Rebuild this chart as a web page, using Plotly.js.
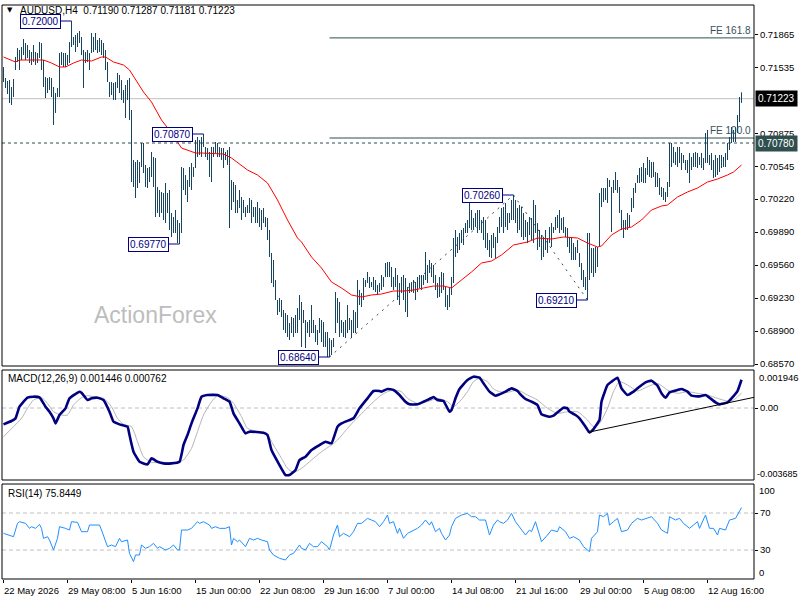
<!DOCTYPE html>
<html><head><meta charset="utf-8">
<script src="https://cdn.plot.ly/plotly-3.0.1.min.js"></script>
<style>html,body{margin:0;padding:0;background:#fff}#c{width:800px;height:600px}</style>
</head><body><div id="c"></div>
<script>
// ---------- DATA ----------
const symbol = 'AUDUSD,H4';
const lastOHLC = ['0.71190','0.71287','0.71181','0.71223'];
const tickIdx = [0,32,64,96,128,160,192,224,256,288,320,352];
const tickText = ['22 May 2026','29 May 08:00','5 Jun 16:00','15 Jun 00:00','22 Jun 08:00','29 Jun 16:00','7 Jul 00:00','14 Jul 08:00','21 Jul 16:00','29 Jul 00:00','5 Aug 08:00','12 Aug 16:00'];
const priceTicks = [0.71865,0.71535,0.70875,0.70545,0.70220,0.69890,0.69560,0.69230,0.68900,0.68570];

const high = [
0.7154,0.7143,0.7140,0.7141,0.7134,0.7142,0.7164,0.7173,0.7171,0.7174,
0.7182,0.7178,0.7176,0.7171,0.7169,0.7176,0.7169,0.7168,0.7179,0.7178,
0.7161,0.7144,0.7143,0.7144,0.7143,0.7134,0.7128,0.7133,0.7168,0.7169,
0.7168,0.7168,0.7166,0.7179,0.7200,0.7184,0.7186,0.7188,0.7190,0.7184,
0.7171,0.7169,0.7171,0.7168,0.7188,0.7184,0.7188,0.7181,0.7183,0.7181,
0.7178,0.7171,0.7159,0.7139,0.7139,0.7138,0.7139,0.7148,0.7146,0.7141,
0.7131,0.7136,0.7141,0.7143,0.7111,0.7061,0.7059,0.7061,0.7059,0.7078,
0.7078,0.7056,0.7053,0.7054,0.7069,0.7064,0.7063,0.7034,0.7031,0.7029,
0.7028,0.7038,0.7028,0.7031,0.7008,0.7004,0.7011,0.7001,0.6998,0.7054,
0.7053,0.7046,0.7041,0.7054,0.7058,0.7054,0.7081,0.7084,0.7081,0.7084,
0.7087,0.7074,0.7073,0.7069,0.7074,0.7074,0.7079,0.7078,0.7074,0.7073,
0.7073,0.7069,0.7071,0.7074,0.7041,0.7039,0.7036,0.7021,0.7031,0.7024,
0.7021,0.7014,0.7016,0.7023,0.7021,0.7014,0.7014,0.7019,0.7013,0.7011,
0.7013,0.7004,0.7003,0.6991,0.6968,0.6961,0.6941,0.6921,0.6923,0.6921,
0.6911,0.6908,0.6906,0.6898,0.6904,0.6903,0.6906,0.6913,0.6926,0.6919,
0.6911,0.6901,0.6899,0.6901,0.6916,0.6901,0.6896,0.6891,0.6903,0.6901,
0.6899,0.6889,0.6889,0.6883,0.6881,0.6883,0.6929,0.6923,0.6919,0.6901,
0.6899,0.6901,0.6916,0.6903,0.6901,0.6911,0.6909,0.6941,0.6931,0.6928,
0.6943,0.6941,0.6949,0.6944,0.6939,0.6944,0.6941,0.6936,0.6938,0.6946,
0.6944,0.6958,0.6959,0.6959,0.6954,0.6944,0.6953,0.6946,0.6938,0.6944,
0.6946,0.6943,0.6934,0.6938,0.6939,0.6941,0.6939,0.6944,0.6946,0.6946,
0.6946,0.6969,0.6956,0.6961,0.6958,0.6956,0.6946,0.6938,0.6944,0.6949,
0.6948,0.6934,0.6926,0.6934,0.6944,0.6983,0.6991,0.6984,0.6988,0.6991,
0.6993,0.6998,0.7001,0.7021,0.7011,0.7003,0.7008,0.7011,0.7011,0.7001,
0.7004,0.7001,0.6988,0.6981,0.6986,0.6988,0.6984,0.6994,0.7004,0.7013,
0.7014,0.7018,0.7008,0.7008,0.7021,0.7026,0.7021,0.7013,0.7016,0.7014,
0.7008,0.7001,0.6999,0.7004,0.7003,0.7021,0.7016,0.6998,0.6991,0.6986,
0.6984,0.6991,0.6983,0.6994,0.6998,0.6994,0.7004,0.7006,0.7011,0.7003,
0.7004,0.6994,0.6993,0.6984,0.6984,0.6978,0.6974,0.6981,0.6968,0.6958,
0.6951,0.6944,0.6988,0.6988,0.6973,0.6973,0.6974,0.6974,0.7028,0.7033,
0.7033,0.7033,0.7043,0.7041,0.7034,0.7041,0.7049,0.7041,0.7034,0.7011,
0.7001,0.7001,0.7008,0.7006,0.7023,0.7033,0.7038,0.7046,0.7053,0.7054,
0.7058,0.7053,0.7064,0.7061,0.7059,0.7059,0.7049,0.7048,0.7043,0.7034,
0.7033,0.7029,0.7039,0.7078,0.7078,0.7074,0.7069,0.7074,0.7074,0.7068,
0.7066,0.7061,0.7061,0.7068,0.7064,0.7068,0.7069,0.7068,0.7064,0.7068,
0.7063,0.7088,0.7091,0.7066,0.7068,0.7061,0.7066,0.7063,0.7066,0.7066,
0.7064,0.7068,0.7078,0.7084,0.7094,0.7091,0.7094,0.7106,0.7124,0.71287];

const low = [
0.7139,0.7133,0.7127,0.7118,0.7116,0.7124,0.7151,0.7159,0.7151,0.7161,
0.7166,0.7161,0.7163,0.7158,0.7156,0.7159,0.7156,0.7158,0.7163,0.7151,
0.7134,0.7123,0.7128,0.7131,0.7124,0.7096,0.7108,0.7124,0.7124,0.7156,
0.7154,0.7154,0.7156,0.7158,0.7174,0.7176,0.7169,0.7174,0.7178,0.7166,
0.7133,0.7158,0.7159,0.7151,0.7168,0.7169,0.7171,0.7168,0.7169,0.7166,
0.7163,0.7151,0.7139,0.7124,0.7126,0.7121,0.7121,0.7133,0.7128,0.7121,
0.7118,0.7103,0.7121,0.7101,0.7039,0.7034,0.7023,0.7033,0.7038,0.7054,
0.7048,0.7034,0.7033,0.7039,0.7044,0.7034,0.7004,0.7008,0.7004,0.7008,
0.7001,0.6998,0.7008,0.6991,0.6984,0.6988,0.6988,0.6978,0.6977,0.6988,
0.7031,0.7026,0.7019,0.7034,0.7031,0.7044,0.7053,0.7064,0.7066,0.7064,
0.7074,0.7064,0.7061,0.7044,0.7039,0.7064,0.7068,0.7064,0.7064,0.7061,
0.7053,0.7061,0.7056,0.6993,0.7011,0.7019,0.7008,0.7008,0.7013,0.7001,
0.7008,0.7004,0.7008,0.7008,0.6998,0.7004,0.6998,0.6998,0.6994,0.6991,
0.6998,0.6994,0.6981,0.6964,0.6938,0.6934,0.6921,0.6906,0.6909,0.6904,
0.6891,0.6888,0.6884,0.6881,0.6888,0.6884,0.6888,0.6888,0.6901,0.6874,
0.6898,0.6873,0.6888,0.6884,0.6888,0.6888,0.6879,0.6876,0.6888,0.6879,
0.6874,0.6874,0.6864,0.6864,0.6866,0.6874,0.6888,0.6898,0.6884,0.6888,
0.6884,0.6883,0.6888,0.6891,0.6883,0.6888,0.6888,0.6893,0.6916,0.6914,
0.6921,0.6934,0.6938,0.6933,0.6934,0.6931,0.6929,0.6926,0.6929,0.6931,
0.6934,0.6944,0.6944,0.6944,0.6934,0.6931,0.6934,0.6921,0.6916,0.6928,
0.6921,0.6909,0.6904,0.6928,0.6929,0.6928,0.6921,0.6929,0.6933,0.6931,
0.6936,0.6941,0.6938,0.6948,0.6944,0.6938,0.6931,0.6923,0.6924,0.6928,
0.6931,0.6914,0.6911,0.6914,0.6926,0.6938,0.6964,0.6968,0.6971,0.6978,
0.6976,0.6988,0.6988,0.6993,0.6991,0.6991,0.6994,0.6988,0.6991,0.6988,
0.6981,0.6973,0.6971,0.6964,0.6963,0.6973,0.6963,0.6978,0.6988,0.6994,
0.6988,0.6994,0.6991,0.6998,0.7001,0.7001,0.6998,0.6988,0.6991,0.6984,
0.6981,0.6984,0.6978,0.6986,0.6981,0.6978,0.6988,0.6971,0.6974,0.6961,
0.6964,0.6971,0.6968,0.6978,0.6974,0.6988,0.6991,0.6993,0.6988,0.6991,
0.6988,0.6984,0.6974,0.6968,0.6961,0.6961,0.6961,0.6968,0.6954,0.6941,
0.6934,0.6931,0.6921,0.6941,0.6948,0.6944,0.6948,0.6954,0.6974,0.7014,
0.7019,0.7021,0.7018,0.7034,0.6989,0.7028,0.7031,0.7028,0.7008,0.6991,
0.6983,0.6991,0.6991,0.6994,0.7009,0.7013,0.7028,0.7038,0.7038,0.7039,
0.7038,0.7038,0.7046,0.7044,0.7043,0.7044,0.7034,0.7034,0.7026,0.7024,
0.7021,0.7019,0.7024,0.7034,0.7054,0.7058,0.7056,0.7054,0.7058,0.7051,
0.7058,0.7051,0.7048,0.7038,0.7051,0.7054,0.7054,0.7053,0.7056,0.7053,
0.7051,0.7058,0.7058,0.7056,0.7051,0.7043,0.7044,0.7046,0.7049,0.7053,
0.7054,0.7054,0.7061,0.7071,0.7078,0.7079,0.7079,0.7088,0.7099,0.71181];

const maIdx = [0,6,8,13,20,24,28,31,35,39,44,49,51,55,60,63,67,70,74,79,84,89,96,99,110,114,122,127,132,137,142,147,149,154,159,164,169,174,179,184,189,195,200,205,210,215,220,224,229,234,239,244,249,255,262,267,274,280,287,292,297,299,304,309,314,319,324,329,332,337,342,347,352,357,362,365,369];
const maVal = [0.7164,0.7159,0.7161,0.7161,0.7161,0.7158,0.7154,0.7154,0.7158,0.7161,0.7160,0.7164,0.7164,0.7159,0.7156,0.7151,0.7139,0.7129,0.7119,0.7101,0.7088,0.7073,0.7068,0.7068,0.7067,0.7063,0.7051,0.7046,0.7038,0.7021,0.7001,0.6983,0.6979,0.6964,0.6953,0.6939,0.6933,0.6926,0.6924,0.6926,0.6927,0.6930,0.6930,0.6931,0.6933,0.6935,0.6935,0.6933,0.6941,0.6949,0.6958,0.6960,0.6966,0.6976,0.6979,0.6983,0.6982,0.6984,0.6983,0.6978,0.6974,0.6975,0.6986,0.6992,0.6994,0.7001,0.7011,0.7015,0.7016,0.7024,0.7029,0.7033,0.7039,0.7042,0.7046,0.7049,0.7056];

const swingIdx = [34,100,88,163,255,292];
const swingVal = [0.72000,0.70870,0.69770,0.68640,0.70260,0.69210];
const feLevels = [0.71831,0.70830];
const feText = ['FE 161.8','FE 100.0'];
const currentPrice = 0.71223;
const dashedLevel = 0.70780;

const macdIdx = [0,4,6,8,12,15,18,21,23,25,26,28,31,33,38,39,42,44,47,50,53,55,58,62,63,65,68,72,74,77,80,84,88,90,92,94,97,99,102,107,110,113,115,118,121,123,130,132,134,138,141,143,146,148,151,154,158,161,164,167,169,173,175,178,182,185,188,189,192,195,198,201,203,207,210,213,215,217,220,223,224,226,228,232,235,238,240,243,246,248,251,254,257,258,261,264,267,269,273,275,278,280,282,283,286,288,291,293,295,298,299,302,304,307,309,312,315,318,321,324,327,329,331,333,337,339,342,344,348,351,353,356,358,362,364,367,369];
const macdVal = [-0.000836,-0.000666,-0.000529,0.000068,0.000529,0.000580,0.000546,0.000068,-0.000188,-0.000529,-0.000785,-0.000358,-0.000017,0.000495,0.000836,0.000785,0.000410,0.000495,0.000529,0.000410,-0.000188,-0.000700,-0.000836,-0.000956,-0.001382,-0.002236,-0.002748,-0.002884,-0.002577,-0.002748,-0.002833,-0.002833,-0.002748,-0.001894,-0.001382,-0.000785,-0.000017,0.000580,0.000666,0.000666,0.000495,0.000324,-0.000273,-0.000785,-0.001297,-0.001212,-0.001263,-0.001382,-0.002150,-0.002918,-0.003430,-0.003430,-0.003174,-0.002662,-0.002492,-0.002150,-0.001894,-0.001724,-0.001809,-0.000956,-0.000785,-0.000614,-0.000529,-0.000017,0.000495,0.000870,0.000870,0.000836,0.000973,0.000922,0.000666,0.000324,0.000188,0.000188,0.000324,0.000461,0.000563,0.000410,0.000358,-0.000188,-0.000102,0.000495,0.000973,0.001434,0.001604,0.001553,0.001263,0.000836,0.000631,0.000700,0.000836,0.001007,0.000870,0.000751,0.000461,0.000324,0.000154,-0.000324,-0.000444,-0.000392,-0.000137,0.000017,-0.000017,-0.000188,-0.000358,-0.000529,-0.000956,-0.001246,-0.001075,-0.000614,0.000324,0.001178,0.001348,0.001553,0.001007,0.000666,0.000836,0.001092,0.001314,0.001400,0.001143,0.000751,0.000529,0.000802,0.000922,0.000973,0.000836,0.000631,0.000597,0.000666,0.000529,0.000290,0.000188,0.000290,0.000495,0.000870,0.001446];

const sigIdx = [0,5,9,12,15,19,22,25,29,32,35,39,42,47,50,54,57,60,64,67,70,74,79,87,90,94,97,100,104,107,112,115,119,122,127,132,135,139,142,145,149,154,159,164,167,172,175,180,185,189,192,195,199,202,207,212,217,222,225,228,232,235,238,242,245,248,252,257,262,267,272,277,282,287,292,295,298,302,305,308,312,317,322,327,332,337,342,347,352,357,362,365,369];
const sigVal = [-0.001468,-0.000956,-0.000529,-0.000017,0.000410,0.000529,0.000239,-0.000188,-0.000358,-0.000358,0.000154,0.000529,0.000631,0.000529,0.000495,0.000068,-0.000529,-0.000836,-0.000956,-0.001724,-0.002492,-0.002782,-0.002782,-0.002782,-0.002662,-0.002065,-0.001212,-0.000358,0.000324,0.000631,0.000529,0.000239,-0.000444,-0.001041,-0.001212,-0.001382,-0.001894,-0.002577,-0.003089,-0.003294,-0.003089,-0.002662,-0.002236,-0.001894,-0.001638,-0.001041,-0.000700,-0.000188,0.000324,0.000666,0.000836,0.000922,0.000836,0.000495,0.000239,0.000324,0.000495,0.000324,0.000068,0.000324,0.000836,0.001348,0.001519,0.001348,0.000973,0.000836,0.000802,0.000922,0.000666,0.000410,-0.000017,-0.000273,-0.000188,-0.000188,-0.000614,-0.000956,-0.000785,-0.000017,0.000836,0.001348,0.001178,0.000870,0.001092,0.001263,0.000922,0.000751,0.000836,0.000751,0.000666,0.000495,0.000358,0.000410,0.000762];
const macdTrendIdx = [292.2,375.25];
const macdTrendVal = [-0.001246,0.000547];
const macdMax = 0.001946, macdMin = -0.003685;

const rsiIdx = [0,3,5,7,8,11,13,14,16,18,19,20,22,23,25,27,28,31,33,34,37,39,42,43,45,48,49,52,54,56,58,59,62,63,65,66,68,69,71,73,75,77,78,81,83,85,87,88,89,92,94,97,98,100,103,104,106,108,111,113,114,115,117,118,121,123,125,127,129,132,133,135,138,141,143,145,148,149,151,153,155,157,159,162,163,165,167,168,170,173,175,177,179,182,184,186,188,190,192,193,195,197,198,200,202,205,207,209,211,213,214,216,218,219,221,223,224,226,229,232,234,236,238,241,243,245,247,248,250,252,254,256,258,259,261,263,264,266,268,269,272,274,277,278,281,283,285,288,290,293,294,297,298,300,302,303,305,307,309,312,314,317,319,322,324,327,329,332,333,336,338,340,343,345,347,348,351,353,355,357,358,361,363,366,369];
const rsiVal = [48.0,46.2,44.4,58.8,60.6,58.8,53.4,55.2,53.4,57.7,53.4,42.6,44.4,40.8,30.0,42.6,55.2,53.4,51.6,60.6,59.9,49.8,49.8,57.0,57.0,57.0,51.6,33.6,35.4,33.6,42.6,39.0,40.8,26.4,17.4,24.6,24.6,35.4,31.8,33.6,37.2,31.8,33.6,30.0,31.8,35.4,30.0,30.0,51.6,51.6,53.4,60.6,58.8,60.6,57.0,53.4,55.2,53.4,53.4,55.2,35.4,42.6,39.0,40.8,33.6,42.6,40.8,42.6,40.8,39.0,30.0,24.6,21.0,19.2,24.6,26.4,35.4,31.8,30.0,37.2,33.6,33.6,39.0,33.6,30.0,46.2,57.0,44.4,48.0,44.4,49.8,58.8,58.8,64.2,62.4,60.6,55.2,60.6,67.8,58.8,60.6,48.0,53.4,42.6,48.0,51.6,53.4,57.0,62.4,57.0,60.6,49.8,53.4,48.0,40.8,46.2,55.2,64.2,67.8,69.6,66.0,66.0,62.4,62.4,46.2,57.0,62.4,60.6,58.8,62.4,69.6,60.6,55.2,51.6,46.2,51.6,49.8,60.6,44.4,39.0,46.2,51.6,49.8,55.2,49.8,42.6,44.4,40.8,33.6,28.2,42.6,49.8,67.8,66.0,69.6,57.0,60.6,64.2,49.8,51.6,58.8,64.2,62.4,64.2,66.0,58.8,51.6,48.0,66.0,62.4,64.2,58.8,53.4,57.0,60.6,53.4,67.8,53.4,53.4,46.2,53.4,51.6,62.4,64.2,75.8449];
const rsiLevels = [70,30];

// ---------- DRAWING ----------
const FONT = 'Liberation Sans, Arial, sans-serif';
const BAR = '#17445E';
const NAVY = '#000080';
const SLATE = '#2F4F4F';
const xp = px => (px - 2) / 752;
const yp = py => (579 - py) / 574;

const segX = [], segY = [];
for (let i = 0; i < high.length; i++) { segX.push(i, i, null); segY.push(low[i], high[i], null); }

const traces = [
  {type:'scatter', mode:'lines', x:segX, y:segY, line:{color:BAR, width:1}, hoverinfo:'skip', xaxis:'x', yaxis:'y'},
  {type:'scatter', mode:'lines', x:maIdx, y:maVal, line:{color:'#FF0000', width:1}, xaxis:'x', yaxis:'y'},
  {type:'scatter', mode:'lines', x:sigIdx, y:sigVal, line:{color:'#B4B4B4', width:1, shape:'spline', smoothing:0.6}, xaxis:'x', yaxis:'y2'},
  {type:'scatter', mode:'lines', x:macdIdx, y:macdVal, line:{color:NAVY, width:2.6, shape:'spline', smoothing:0.4}, xaxis:'x', yaxis:'y2'},
  {type:'scatter', mode:'lines', x:macdTrendIdx, y:macdTrendVal, line:{color:'#000', width:1}, xaxis:'x', yaxis:'y2'},
  {type:'scatter', mode:'lines', x:rsiIdx, y:rsiVal, line:{color:'#1E90FF', width:1}, xaxis:'x', yaxis:'y3'}
];

const shapes = [];
['y','y2','y3'].forEach(a => shapes.push({type:'rect', xref:'paper', yref:a+' domain', x0:0, x1:1, y0:0, y1:1, line:{color:'#000', width:1}, layer:'above'}));
shapes.push({type:'line', xref:'paper', yref:'y', x0:0, x1:1, y0:currentPrice, y1:currentPrice, line:{color:'#C0C0C0', width:1}, layer:'below'});
shapes.push({type:'line', xref:'paper', yref:'y', x0:0, x1:1, y0:dashedLevel, y1:dashedLevel, line:{color:SLATE, width:1, dash:'3px,3px'}, layer:'below'});
feLevels.forEach(v => shapes.push({type:'line', xref:'x', yref:'y', x0:swingIdx[3], x1:375.25, y0:v, y1:v, line:{color:SLATE, width:1}, layer:'below'}));
shapes.push({type:'line', xref:'x', yref:'y', x0:swingIdx[3], y0:swingVal[3], x1:swingIdx[4], y1:swingVal[4], line:{color:SLATE, width:1, dash:'2px,5px'}, layer:'below'});
shapes.push({type:'line', xref:'x', yref:'y', x0:swingIdx[4], y0:swingVal[4], x1:swingIdx[5], y1:swingVal[5], line:{color:SLATE, width:1, dash:'2px,5px'}, layer:'below'});
swingIdx.forEach((ix, k) => shapes.push({type:'line', xref:'x', yref:'y', x0:ix - 5.25, x1:ix, y0:swingVal[k], y1:swingVal[k], line:{color:NAVY, width:1}}));
shapes.push({type:'line', xref:'paper', yref:'y2', x0:0, x1:1, y0:0, y1:0, line:{color:'#C0C0C0', width:1, dash:'4px,3px'}, layer:'below'});
rsiLevels.forEach(v => shapes.push({type:'line', xref:'paper', yref:'y3', x0:0, x1:1, y0:v, y1:v, line:{color:'#C0C0C0', width:1, dash:'4px,3px'}, layer:'below'}));

const ann = [];
const T = (o) => ann.push(Object.assign({showarrow:false, font:{family:FONT, size:10, color:'#000'}}, o));
T({xref:'paper', yref:'paper', x:xp(5), y:yp(10.5), xanchor:'left', yanchor:'middle', text:'▼', font:{family:'DejaVu Sans', size:7, color:'#000'}});
T({xref:'paper', yref:'paper', x:xp(18), y:yp(10.5), xanchor:'left', yanchor:'middle', text:symbol + '  ' + lastOHLC.join(' ')});
T({xref:'paper', yref:'paper', x:xp(6), y:yp(378.5), xanchor:'left', yanchor:'middle', text:'MACD(12,26,9) ' + macdVal[macdVal.length-1].toFixed(6) + ' ' + sigVal[sigVal.length-1].toFixed(6)});
T({xref:'paper', yref:'paper', x:xp(6), y:yp(493), xanchor:'left', yanchor:'middle', text:'RSI(14) ' + rsiVal[rsiVal.length-1].toFixed(4)});
T({xref:'paper', yref:'paper', x:xp(155), y:yp(315), xanchor:'center', yanchor:'middle', text:'ActionForex', font:{family:FONT, size:23, color:'#BDBDBD'}});
swingIdx.forEach((ix, k) => T({xref:'x', yref:'y', x:ix - 5.25, y:swingVal[k], xanchor:'right', yanchor:'middle', text:swingVal[k].toFixed(5), bgcolor:'#FFFFFF', bordercolor:NAVY, borderwidth:1, borderpad:1, font:{family:FONT, size:10, color:NAVY}}));
feLevels.forEach((v, k) => T({xref:'paper', yref:'y', x:1, xshift:-1, y:v, yanchor:'bottom', xanchor:'right', text:feText[k], font:{family:FONT, size:10, color:'#3A4F5A'}}));
T({xref:'paper', yref:'y', x:1, xanchor:'left', xshift:1, y:currentPrice, yanchor:'middle', text:currentPrice.toFixed(5), bgcolor:'#000', borderpad:2, font:{family:FONT, size:10, color:'#FFF'}});
T({xref:'paper', yref:'y', x:1, xanchor:'left', xshift:1, y:dashedLevel, yanchor:'middle', text:dashedLevel.toFixed(5), bgcolor:SLATE, borderpad:2, font:{family:FONT, size:10, color:'#FFF'}});
T({xref:'paper', yref:'paper', x:1, xanchor:'left', xshift:3, y:yp(377), yanchor:'middle', text:macdMax.toFixed(6), font:{family:FONT, size:9.5, color:'#000'}});
T({xref:'paper', yref:'paper', x:1, xanchor:'left', xshift:1, y:yp(474), yanchor:'middle', text:macdMin.toFixed(6), font:{family:FONT, size:9, color:'#000'}});
T({xref:'paper', yref:'paper', x:1, xanchor:'left', xshift:3, y:yp(490), yanchor:'middle', text:'100', font:{family:FONT, size:9.5, color:'#000'}});
T({xref:'paper', yref:'paper', x:1, xanchor:'left', xshift:3, y:yp(572), yanchor:'middle', text:'0', font:{family:FONT, size:9.5, color:'#000'}});
// date labels, left-aligned at their tick like the reference
tickIdx.forEach((ix, k) => T({xref:'x', yref:'paper', x:ix, xshift:-1.5, y:yp(590), xanchor:'left', yanchor:'middle', text:tickText[k], font:{family:FONT, size:9.5, color:'#000'}}));

const yCommon = {side:'right', anchor:'x', showgrid:false, zeroline:false, showline:false, ticks:'outside', ticklen:3, tickcolor:'#000', tickfont:{family:FONT, size:9.5, color:'#000'}, fixedrange:true};
const layout = {
  width:800, height:600, margin:{l:2, r:46, t:5, b:21, pad:0},
  paper_bgcolor:'#FFFFFF', plot_bgcolor:'#FFFFFF', showlegend:false,
  font:{family:FONT, size:10, color:'#000'},
  xaxis:{range:[-0.75, 375.25], anchor:'y3', tickmode:'array', tickvals:tickIdx, ticktext:tickText, showticklabels:false, ticks:'outside', ticklen:3, tickcolor:'#000', showgrid:false, zeroline:false, showline:false},
  yaxis:Object.assign({}, yCommon, {domain:[213/574, 1], range:[0.6855, 0.7216], tickmode:'array', tickvals:priceTicks, ticktext:priceTicks.map(v => v.toFixed(5))}),
  yaxis2:Object.assign({}, yCommon, {domain:[99/574, 209/574], range:[macdMin, macdMax], tickmode:'array', tickvals:[0], ticktext:['0.00']}),
  yaxis3:Object.assign({}, yCommon, {domain:[0, 95/574], range:[-1.35, 101.35], tickmode:'array', tickvals:rsiLevels, ticktext:rsiLevels.map(String)}),
  shapes:shapes, annotations:ann
};
Plotly.newPlot('c', traces, layout, {displayModeBar:false, staticPlot:true});
</script></body></html>
